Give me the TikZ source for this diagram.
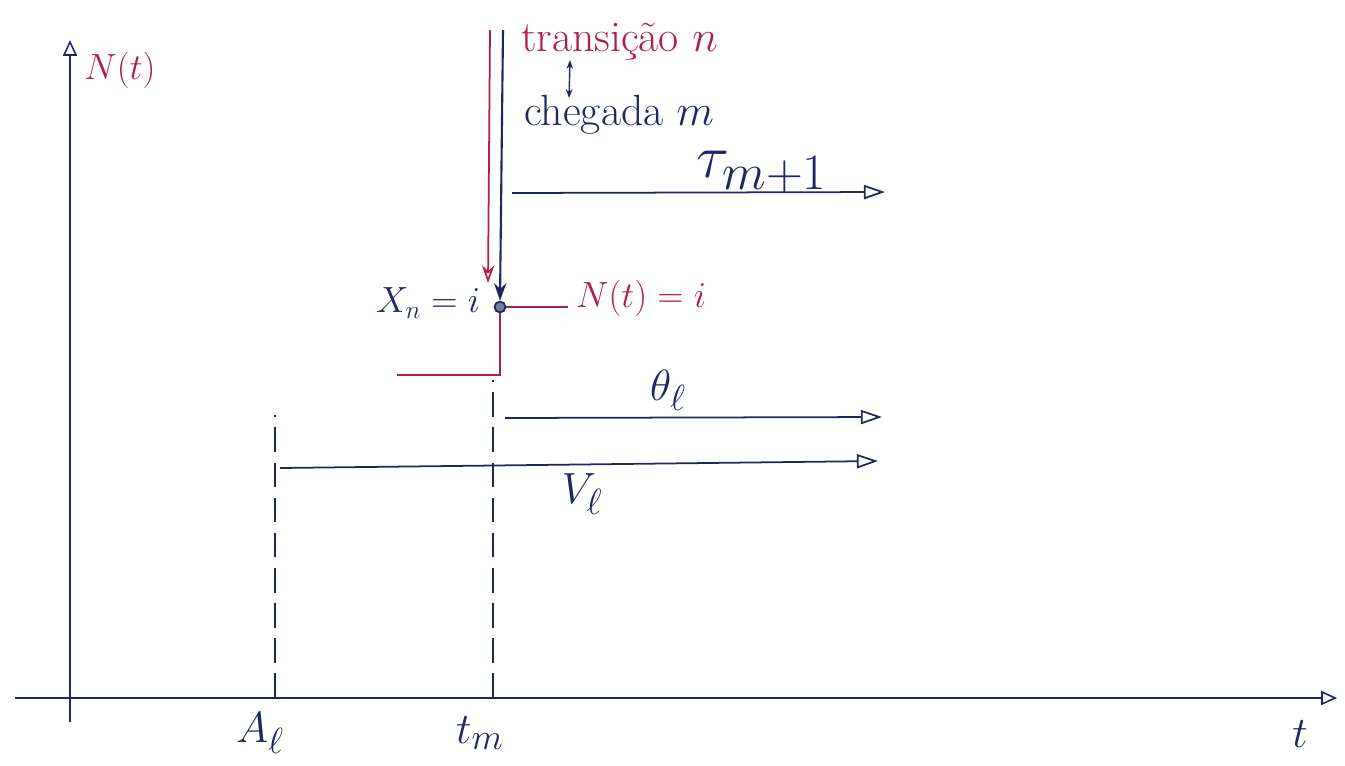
\documentclass[tikz,border=0pt]{standalone}
\usepackage{amsmath}
\usepackage{graphicx}
\usetikzlibrary{arrows.meta}
\definecolor{ink}{RGB}{30,40,95}
\definecolor{redink}{RGB}{175,30,70}
\tikzset{
  axis/.style={ink, line width=0.9pt, -{Triangle[open,length=9pt,width=8pt]}},
  span/.style={ink, line width=1pt, -{Triangle[open,length=12pt,width=8pt]}},
  guide/.style={ink, line width=0.9pt, dash pattern=on 14pt off 6pt},
  lbl/.style={ink, font=\Huge},
  rlbl/.style={redink, font=\huge}
}
\begin{document}
\begin{tikzpicture}[x=0.02cm,y=-0.02cm]
\useasboundingbox (0,0) rectangle (1345,765);
% axes
\coordinate (xs) at (15,698);
\coordinate (xe) at (1337,698);
\coordinate (ys) at (70,722);
\coordinate (ye) at (70,40);
\draw[axis] (xs) -- (xe);
\draw[axis] (ys) -- (ye);
\node[rlbl] (nt) at (120,70) {$N(t)$};
\node[lbl] (tlab) at (1300,734) {$t$};

% ticks on time axis
\coordinate (al) at (275,698);
\coordinate (tm) at (493,698);
\draw[guide] (al) -- (275,415);
\draw[guide] (tm) -- (493,380);
\node[lbl] (allab) at (260,733) {$A_\ell$};
\node[lbl] (tmlab) at (480,733) {$t_m$};

% intervals
\coordinate (vs) at (280,468);
\coordinate (ve) at (878,461);
\draw[span] (vs) -- (ve);
\node[lbl] (vlab) at (582,494) {$V_\ell$};
\coordinate (ts) at (505,418);
\coordinate (te) at (882,417);
\draw[span] (ts) -- (te);
\node[lbl] (thlab) at (668,390) {$\theta_\ell$};
\coordinate (us) at (512,193);
\coordinate (ue) at (885,192);
\draw[span] (us) -- (ue);
\node[lbl] (taulab) at (762,172) {\scalebox{1.4}{$\tau_{m+1}$}};

% state at t_m
\node[circle, draw=ink, fill=ink!60, line width=1pt, inner sep=2.2pt] (pt) at (500,307) {};
\draw[redink, line width=1pt] (pt.east) -- (568,307);
\node[rlbl, anchor=west] (nlab) at (570,298) {$N(t)=i$};
\draw[redink, line width=1pt] (pt.south) -- (500,375) -- (397,375);
\node[ink, font=\huge] (xlab) at (428,303) {$X_n=i$};

% transition and arrival
\coordinate (rtop) at (490,30);
\coordinate (btop) at (503,30);
\draw[redink, line width=1pt, -{Stealth[open,length=10pt,width=7pt]}] (rtop) -- (488,283);
\draw[ink, line width=1.2pt, -{Stealth[length=10pt,width=7pt]}] (btop) -- (pt.north);
\node[redink, font=\Huge, anchor=west] (trans) at (515,42) {transição $n$};
\node[ink, font=\Huge, anchor=west] (cheg) at (518,115) {chegada $m$};
\draw[ink, line width=0.8pt, {Stealth[length=5pt]}-{Stealth[length=5pt]}] (570,60) -- (569,98);
\end{tikzpicture}
\end{document}
